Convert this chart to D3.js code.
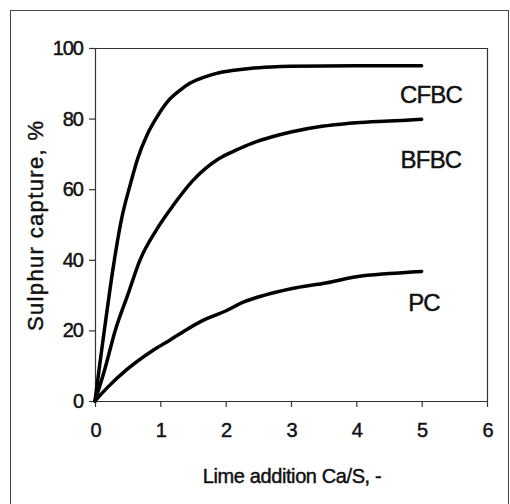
<!DOCTYPE html>
<html lang="en">
<head>
    <meta charset="utf-8">
    <title>Sulphur capture vs lime addition</title>
    <script src="https://d3js.org/d3.v7.min.js"></script>
    <style>
        body { margin: 0; background: #fff; }
        text { font-family: "Liberation Sans", Arial, sans-serif; fill: #111; stroke: #111; stroke-width: 0.45px; }
    </style>
</head>
<body>
<svg width="510" height="504"></svg>
<script>
// axis ticks
const xTicks = [0, 1, 2, 3, 4, 5, 6];
const yTicks = [0, 20, 40, 60, 80, 100];

// curves (Ca/S -> capture %)
const cfbcCaS     = [0, 0.07, 0.15, 0.28, 0.4, 0.55, 0.65, 0.8, 0.95, 1.12, 1.3, 1.45, 1.65, 1.86, 2.1, 2.37, 2.7, 3.0, 4.0, 5.0];
const cfbcCapture = [0, 10, 21, 38, 51, 62, 68.5, 75.5, 80.5, 85, 88, 90, 91.6, 92.8, 93.6, 94.2, 94.6, 94.8, 95, 95];

const bfbcCaS     = [0, 0.15, 0.31, 0.5, 0.69, 0.94, 1.2, 1.5, 1.9, 2.15, 2.4, 2.7, 3.0, 3.5, 3.8, 4.0, 4.5, 5.0];
const bfbcCapture = [0, 9, 20, 30, 40, 48.5, 55.5, 62.5, 68.7, 71, 73, 74.8, 76.2, 77.9, 78.5, 78.8, 79.3, 79.8];

const pcCaS       = [0, 0.2, 0.48, 0.89, 1.15, 1.4, 1.66, 2.0, 2.27, 2.6, 3.0, 3.55, 4.0, 4.5, 5.0];
const pcCapture   = [0, 4, 8.8, 14.4, 17.3, 20.2, 22.9, 25.5, 28, 30, 31.8, 33.5, 35.2, 36.1, 36.7];

const seriesNames = ["CFBC", "BFBC", "PC"];

const series = [
    { name: seriesNames[0], xs: cfbcCaS, ys: cfbcCapture, lx: 431, ly: 94 },
    { name: seriesNames[1], xs: bfbcCaS, ys: bfbcCapture, lx: 431, ly: 159 },
    { name: seriesNames[2], xs: pcCaS,   ys: pcCapture,   lx: 424, ly: 302 }
];

const svg = d3.select("svg");

// outer frame
svg.append("rect")
    .attr("x", 10.5).attr("y", 10.5)
    .attr("width", 498).attr("height", 510)
    .attr("fill", "none").attr("stroke", "#444").attr("stroke-width", 1);

const plotLeft = 95, plotRight = 487, plotTop = 48, plotBottom = 401;

const x = d3.scaleLinear().domain([0, 6]).range([plotLeft, plotRight]);
const y = d3.scaleLinear().domain([0, 100]).range([plotBottom, plotTop]);

// plot box (top and right)
svg.append("path")
    .attr("d", `M${plotLeft},${plotTop + 0.5}H${plotRight + 0.5}V${plotBottom}`)
    .attr("fill", "none").attr("stroke", "#333").attr("stroke-width", 1.2);

const xAxis = svg.append("g")
    .attr("transform", `translate(0,${plotBottom})`)
    .call(d3.axisBottom(x).tickValues(xTicks).tickFormat(d3.format("d"))
        .tickSizeInner(6).tickSizeOuter(0).tickPadding(16));

const yAxis = svg.append("g")
    .attr("transform", `translate(${plotLeft},0)`)
    .call(d3.axisLeft(y).tickValues(yTicks).tickFormat(d3.format("d"))
        .tickSizeInner(6).tickSizeOuter(0).tickPadding(6));

[xAxis, yAxis].forEach(function(g) {
    g.select(".domain").attr("stroke", "#333").attr("stroke-width", 1.2);
    g.selectAll(".tick line").attr("stroke", "#333").attr("stroke-width", 1.2);
    g.selectAll(".tick text")
        .attr("fill", "#111")
        .style("font-family", "'Liberation Sans', Arial, sans-serif")
        .style("font-size", "20px")
        .style("letter-spacing", "-1px");
});

// curves
const line = d3.line()
    .x(function(d) { return x(d[0]); })
    .y(function(d) { return y(d[1]); })
    .curve(d3.curveMonotoneX);

series.forEach(function(s) {
    const pts = s.xs.map(function(v, i) { return [v, s.ys[i]]; });
    svg.append("path")
        .datum(pts)
        .attr("d", line)
        .attr("fill", "none")
        .attr("stroke", "#000")
        .attr("stroke-width", 3.5)
        .attr("stroke-linejoin", "round")
        .attr("stroke-linecap", "round");

    svg.append("text")
        .attr("x", s.lx).attr("y", s.ly)
        .attr("text-anchor", "middle")
        .attr("dominant-baseline", "central")
        .style("font-size", "24px")
        .style("letter-spacing", "-0.8px")
        .text(s.name);
});

// axis titles
svg.append("text")
    .attr("x", 292).attr("y", 476)
    .attr("text-anchor", "middle")
    .attr("dominant-baseline", "central")
    .style("font-size", "20px")
    .style("letter-spacing", "-0.4px")
    .text("Lime addition Ca/S, -");

svg.append("text")
    .attr("transform", "translate(35,226) rotate(-90)")
    .attr("text-anchor", "middle")
    .attr("dominant-baseline", "central")
    .style("font-size", "22px")
    .attr("textLength", 210)
    .attr("lengthAdjust", "spacing")
    .text("Sulphur capture, %");
</script>
</body>
</html>
